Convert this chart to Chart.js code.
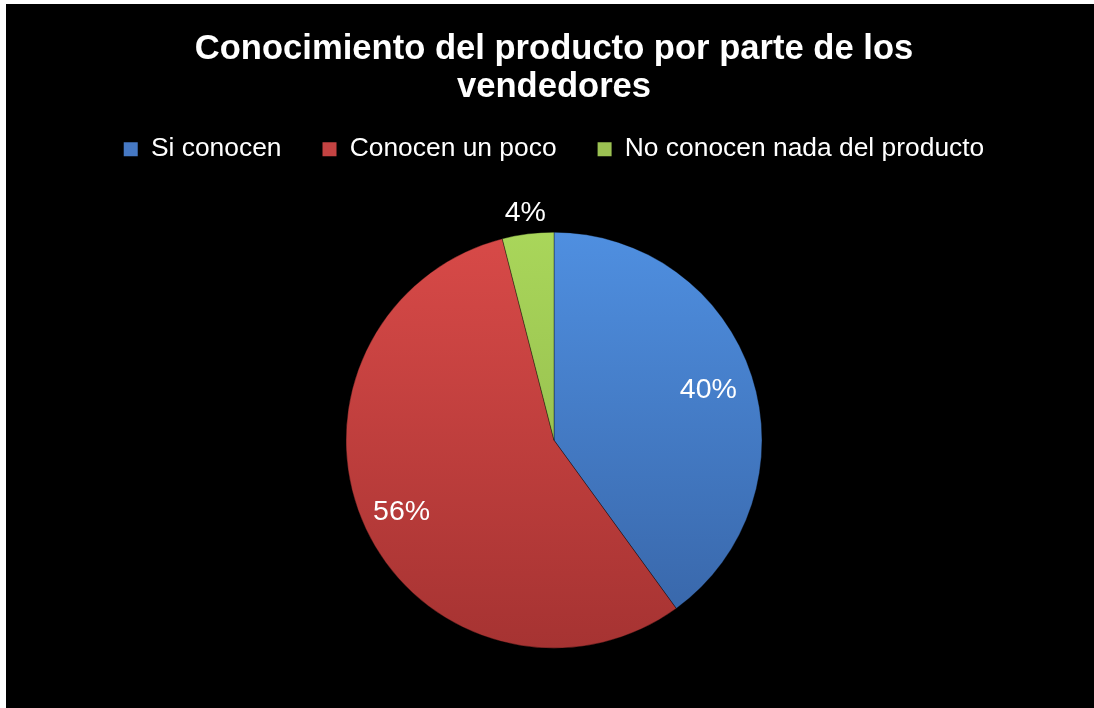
<!DOCTYPE html>
<html lang="es">
<head>
<meta charset="utf-8">
<title>Conocimiento del producto</title>
<script src="https://cdn.jsdelivr.net/npm/chart.js@4/dist/chart.umd.min.js"></script>
<style>
    html, body { margin: 0; padding: 0; background: #fff; overflow: hidden; }
    #frame {
        position: absolute;
        left: 6px;
        top: 4px;
        right: -20px;
        bottom: -20px;
        background: #000;
    }
    #chartBox {
        position: relative;
        width: 1088px;
        height: 704px;
    }
</style>
</head>
<body>
<div id="frame"><div id="chartBox"><canvas id="pieChart"></canvas></div></div>
<script>
// Survey results
const categories = ['Si conocen', 'Conocen un poco', 'No conocen nada del producto'];
const percentages = [40, 56, 4];

// Slice colours: [top, bottom] of the vertical shading, plus a flat one for the legend
const topColors = ['#4f8fe0', '#d84a48', '#a9d65a'];
const bottomColors = ['#3764a6', '#a63332', '#8bb048'];
const legendColors = ['#4679c4', '#c44342', '#9bc152'];

// how far out each percent label sits, as a fraction of the radius
const labelRadius = [0.78, 0.81, 1.1];

const FONT = '"Liberation Sans", Arial, sans-serif';
const PIE_RADIUS = 208;

function sliceFill(context) {
    const chart = context.chart;
    const area = chart.chartArea;
    const i = context.dataIndex;
    if (!area) return legendColors[i];
    const cy = (area.top + area.bottom) / 2;
    const g = chart.ctx.createLinearGradient(0, cy - PIE_RADIUS, 0, cy + PIE_RADIUS);
    g.addColorStop(0, topColors[i]);
    g.addColorStop(1, bottomColors[i]);
    return g;
}

const percentLabels = {
    id: 'percentLabels',
    afterDatasetsDraw(chart) {
        const ctx = chart.ctx;
        const meta = chart.getDatasetMeta(0);
        ctx.save();
        ctx.font = '28.5px ' + FONT;
        ctx.fillStyle = '#fff';
        ctx.textAlign = 'center';
        ctx.textBaseline = 'middle';
        meta.data.forEach((arc, i) => {
            const p = arc.getProps(['x', 'y', 'startAngle', 'endAngle', 'outerRadius'], true);
            const mid = (p.startAngle + p.endAngle) / 2;
            const dist = p.outerRadius * labelRadius[i];
            ctx.fillText(percentages[i] + '%', p.x + Math.cos(mid) * dist, p.y + Math.sin(mid) * dist);
        });
        ctx.restore();
    }
};

const ctx = document.getElementById('pieChart').getContext('2d');

new Chart(ctx, {
    type: 'pie',
    data: {
        labels: categories,
        datasets: [{
            data: percentages,
            backgroundColor: sliceFill,
            borderColor: 'rgba(0, 0, 0, 0.35)',
            borderWidth: 1
        }]
    },
    options: {
        responsive: true,
        maintainAspectRatio: false,
        animation: false,
        radius: PIE_RADIUS,
        layout: {
            padding: { left: 8, right: 0, top: 0, bottom: 0 }
        },
        plugins: {
            title: {
                display: true,
                text: ['Conocimiento del producto por parte de los', 'vendedores'],
                color: '#fff',
                font: { family: FONT, size: 34.6, weight: 'bold', lineHeight: 38 / 34.6 },
                padding: { top: 26, bottom: -11 }
            },
            legend: {
                position: 'top',
                labels: {
                    color: '#fff',
                    font: { family: FONT, size: 26.4 },
                    boxWidth: 14,
                    boxHeight: 14,
                    padding: 41,
                    generateLabels() {
                        return categories.map((name, i) => ({
                            text: name,
                            fillStyle: legendColors[i],
                            strokeStyle: legendColors[i],
                            lineWidth: 0,
                            fontColor: '#fff',
                            index: i
                        }));
                    }
                }
            },
            tooltip: { enabled: false }
        }
    },
    plugins: [percentLabels]
});
</script>
</body>
</html>
